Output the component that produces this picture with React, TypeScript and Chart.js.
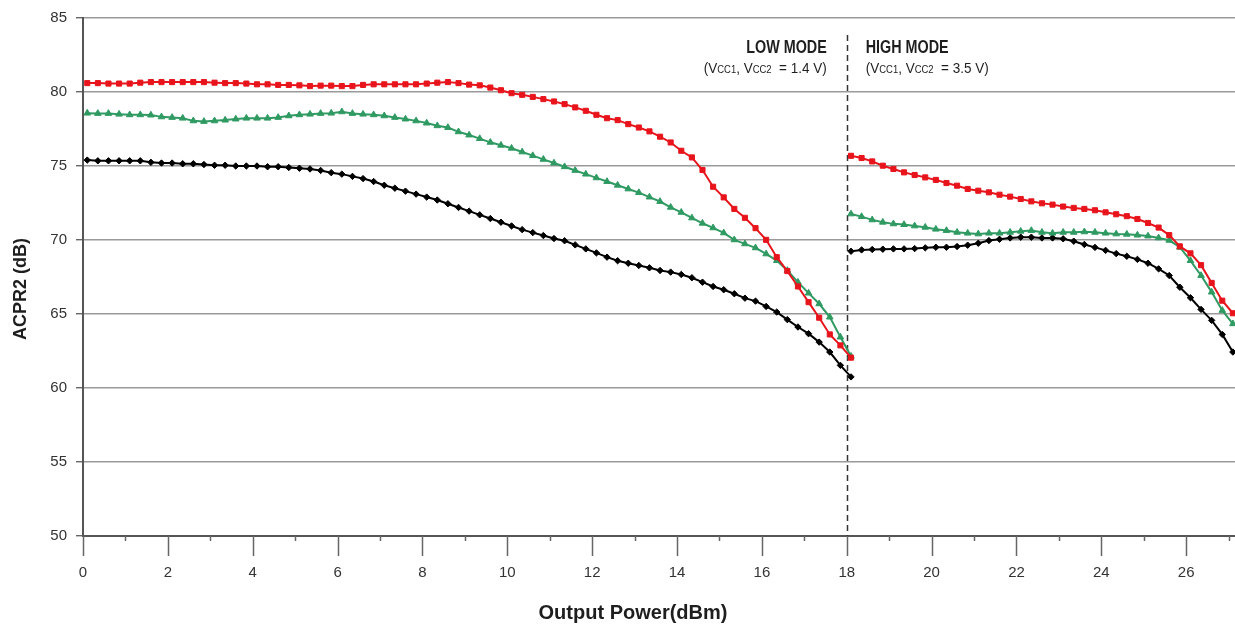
import React, { useEffect, useRef } from "react";
import { Chart, registerables } from "chart.js";

Chart.register(...registerables);

const FONT = "'Liberation Sans', Arial, Helvetica, sans-serif";

// X positions (Output Power, dBm)
const xLow = [0.1, 0.35, 0.6, 0.85, 1.1, 1.35, 1.6, 1.85, 2.1, 2.35, 2.6, 2.85, 3.1, 3.35, 3.6, 3.85, 4.1, 4.35, 4.6, 4.85, 5.1, 5.35, 5.6, 5.85, 6.1, 6.35, 6.6, 6.85, 7.1, 7.35, 7.6, 7.85, 8.1, 8.35, 8.6, 8.85, 9.1, 9.35, 9.6, 9.85, 10.1, 10.35, 10.6, 10.85, 11.1, 11.35, 11.6, 11.85, 12.1, 12.35, 12.6, 12.85, 13.1, 13.35, 13.6, 13.85, 14.1, 14.35, 14.6, 14.85, 15.1, 15.35, 15.6, 15.85, 16.1, 16.35, 16.6, 16.85, 17.1, 17.35, 17.6, 17.85, 18.1];
const xHigh = [18.1, 18.35, 18.6, 18.85, 19.1, 19.35, 19.6, 19.85, 20.1, 20.35, 20.6, 20.85, 21.1, 21.35, 21.6, 21.85, 22.1, 22.35, 22.6, 22.85, 23.1, 23.35, 23.6, 23.85, 24.1, 24.35, 24.6, 24.85, 25.1, 25.35, 25.6, 25.85, 26.1, 26.35, 26.6, 26.85, 27.1];

// Low mode (Vcc = 1.4 V)
const redLow = [80.6, 80.6, 80.57, 80.57, 80.57, 80.63, 80.67, 80.67, 80.67, 80.67, 80.67, 80.67, 80.63, 80.6, 80.6, 80.57, 80.52, 80.52, 80.48, 80.48, 80.45, 80.4, 80.43, 80.43, 80.4, 80.4, 80.48, 80.52, 80.52, 80.52, 80.52, 80.52, 80.57, 80.63, 80.67, 80.6, 80.5, 80.45, 80.3, 80.12, 79.92, 79.81, 79.67, 79.52, 79.36, 79.18, 78.96, 78.73, 78.46, 78.23, 78.1, 77.83, 77.6, 77.34, 76.98, 76.59, 76.03, 75.58, 74.73, 73.6, 72.88, 72.1, 71.5, 70.8, 70.01, 68.84, 67.9, 66.86, 65.8, 64.75, 63.62, 62.88, 62.05];
const greenLow = [78.57, 78.55, 78.55, 78.5, 78.46, 78.46, 78.44, 78.32, 78.28, 78.23, 78.05, 78.01, 78.05, 78.1, 78.17, 78.23, 78.23, 78.23, 78.28, 78.39, 78.46, 78.5, 78.55, 78.57, 78.66, 78.55, 78.5, 78.46, 78.39, 78.28, 78.17, 78.05, 77.9, 77.72, 77.6, 77.31, 77.09, 76.85, 76.6, 76.4, 76.2, 75.95, 75.7, 75.45, 75.2, 74.95, 74.7, 74.45, 74.2, 73.95, 73.7, 73.45, 73.2, 72.9, 72.6, 72.21, 71.87, 71.49, 71.13, 70.82, 70.48, 70.01, 69.74, 69.47, 69.06, 68.61, 67.94, 67.15, 66.41, 65.69, 64.79, 63.44, 62.14];
const blackLow = [75.4, 75.35, 75.35, 75.35, 75.35, 75.35, 75.25, 75.2, 75.2, 75.15, 75.15, 75.1, 75.05, 75.05, 75.0, 75.0, 75.0, 74.95, 74.95, 74.9, 74.85, 74.8, 74.7, 74.55, 74.45, 74.3, 74.15, 73.95, 73.7, 73.5, 73.3, 73.1, 72.9, 72.7, 72.45, 72.2, 71.95, 71.7, 71.45, 71.2, 70.95, 70.7, 70.5, 70.3, 70.1, 69.95, 69.67, 69.4, 69.13, 68.84, 68.6, 68.43, 68.28, 68.12, 67.94, 67.83, 67.67, 67.45, 67.15, 66.86, 66.64, 66.37, 66.07, 65.87, 65.51, 65.13, 64.62, 64.12, 63.67, 63.1, 62.43, 61.53, 60.75];

// High mode (Vcc = 3.5 V)
const redHigh = [75.69, 75.54, 75.31, 75.02, 74.8, 74.57, 74.39, 74.23, 74.06, 73.85, 73.67, 73.45, 73.33, 73.22, 73.06, 72.93, 72.77, 72.61, 72.48, 72.39, 72.26, 72.17, 72.1, 72.01, 71.87, 71.74, 71.61, 71.42, 71.15, 70.84, 70.33, 69.57, 69.1, 68.3, 67.1, 65.9, 65.05];
const greenHigh = [71.76, 71.58, 71.36, 71.2, 71.09, 71.04, 70.95, 70.86, 70.73, 70.64, 70.52, 70.46, 70.41, 70.46, 70.46, 70.52, 70.59, 70.64, 70.52, 70.46, 70.52, 70.52, 70.55, 70.52, 70.46, 70.41, 70.39, 70.33, 70.27, 70.14, 69.98, 69.51, 68.61, 67.6, 66.48, 65.24, 64.34];
const blackHigh = [69.24, 69.33, 69.36, 69.38, 69.4, 69.4, 69.42, 69.47, 69.51, 69.51, 69.56, 69.65, 69.78, 69.96, 70.05, 70.14, 70.19, 70.19, 70.14, 70.14, 70.08, 69.92, 69.7, 69.5, 69.3, 69.08, 68.9, 68.69, 68.43, 68.05, 67.6, 66.81, 66.1, 65.31, 64.57, 63.62, 62.43];

const yMin = 50;
const yMax = 85;
const yStep = 5;
const xMin = 0;
const xMax = 27.15;
const xStep = 2;
const modeBoundary = 18;

const RED = "#e8141c";
const GREEN = "#2f9a62";
const BLACK = "#000000";

type Part = [string, number, boolean];

function drawRich(ctx: CanvasRenderingContext2D, parts: Part[], x: number, y: number, align: "left" | "right", sx: number) {
  let w = 0;
  for (const [t, size, bold] of parts) {
    ctx.font = `${bold ? "bold " : ""}${size}px ${FONT}`;
    w += ctx.measureText(t).width;
  }
  ctx.save();
  ctx.translate(x, y);
  ctx.scale(sx, 1);
  ctx.textAlign = "left";
  ctx.textBaseline = "alphabetic";
  ctx.fillStyle = "#1e1e1e";
  let cx = align === "right" ? -w : 0;
  for (const [t, size, bold] of parts) {
    ctx.font = `${bold ? "bold " : ""}${size}px ${FONT}`;
    ctx.fillText(t, cx, 0);
    cx += ctx.measureText(t).width;
  }
  ctx.restore();
}

const decorPlugin = {
  id: "decor",
  beforeDatasetsDraw(chart: any) {
    const ctx: CanvasRenderingContext2D = chart.ctx;
    const xs = chart.scales.x;
    const area = chart.chartArea;
    ctx.save();
    // x-axis tick marks (major every 2, minor every 1)
    ctx.strokeStyle = "#666";
    ctx.lineWidth = 1.5;
    for (let v = xMin; v <= Math.floor(xMax); v++) {
      const px = Math.round(xs.getPixelForValue(v)) + 0.5;
      const len = v % 2 === 0 ? 20 : 5;
      ctx.beginPath();
      ctx.moveTo(px, area.bottom);
      ctx.lineTo(px, area.bottom + len);
      ctx.stroke();
    }
    // dashed mode boundary
    const bx = Math.round(xs.getPixelForValue(modeBoundary)) + 0.5;
    ctx.strokeStyle = "#333";
    ctx.lineWidth = 1.5;
    ctx.setLineDash([6, 4]);
    ctx.beginPath();
    ctx.moveTo(bx, 35);
    ctx.lineTo(bx, area.bottom);
    ctx.stroke();
    ctx.restore();
  },
  afterDraw(chart: any) {
    const ctx: CanvasRenderingContext2D = chart.ctx;
    const xs = chart.scales.x;
    const bx = xs.getPixelForValue(modeBoundary);
    ctx.save();
    drawRich(ctx, [["LOW MODE", 17.5, true]], bx - 20, 53, "right", 0.82);
    drawRich(ctx, [["(V", 15, false], ["CC1", 10.5, false], [", V", 15, false], ["CC2", 10.5, false], ["  = 1.4 V)", 15, false]], bx - 20, 73, "right", 0.9);
    drawRich(ctx, [["HIGH MODE", 17.5, true]], bx + 19, 53, "left", 0.82);
    drawRich(ctx, [["(V", 15, false], ["CC1", 10.5, false], [", V", 15, false], ["CC2", 10.5, false], ["  = 3.5 V)", 15, false]], bx + 19, 73, "left", 0.9);

    // axis titles
    ctx.fillStyle = "#1e1e1e";
    ctx.font = `bold 20px ${FONT}`;
    ctx.textAlign = "center";
    ctx.textBaseline = "alphabetic";
    ctx.fillText("Output Power(dBm)", 633, 619);

    ctx.translate(26, 289);
    ctx.rotate(-Math.PI / 2);
    ctx.font = `bold 18px ${FONT}`;
    ctx.fillText("ACPR2 (dB)", 0, 0);
    ctx.restore();
  },
};

function series(label: string, xs: number[], ys: number[], color: string, style: string, radius: number) {
  return {
    label,
    data: xs.map((x, i) => ({ x, y: ys[i] })),
    borderColor: color,
    backgroundColor: color,
    pointBackgroundColor: color,
    pointBorderColor: color,
    pointBorderWidth: 1,
    pointStyle: style,
    pointRadius: radius,
    borderWidth: 2,
    tension: 0,
    fill: false,
  };
}

export default function App() {
  const ref = useRef<HTMLCanvasElement>(null);
  useEffect(() => {
    const canvas = ref.current!;
    const chart = new Chart(canvas, {
      type: "line",
      data: {
        datasets: [
          series("Red low", xLow, redLow, RED, "rect", 3.6),
          series("Green low", xLow, greenLow, GREEN, "triangle", 3.8),
          series("Black low", xLow, blackLow, BLACK, "rectRot", 3.2),
          series("Red high", xHigh, redHigh, RED, "rect", 3.6),
          series("Green high", xHigh, greenHigh, GREEN, "triangle", 3.8),
          series("Black high", xHigh, blackHigh, BLACK, "rectRot", 3.2),
        ] as any,
      },
      options: {
        responsive: false,
        animation: false,
        layout: { autoPadding: false, padding: { top: 18, left: 0, right: 0, bottom: 0 } },
        plugins: { legend: { display: false }, tooltip: { enabled: false } },
        scales: {
          x: {
            type: "linear",
            min: xMin,
            max: xMax,
            grid: { display: false, drawTicks: false },
            border: { display: true, color: "#555", width: 2 },
            ticks: {
              stepSize: xStep,
              includeBounds: false,
              padding: 28,
              color: "#333",
              font: { family: FONT, size: 15 },
              maxRotation: 0,
            },
            afterFit: (s: any) => {
              s.height = 90;
            },
          },
          y: {
            min: yMin,
            max: yMax,
            grid: { color: "#9a9a9a", lineWidth: 1.4, drawTicks: true, tickLength: 7, tickColor: "#666" },
            border: { display: true, color: "#555", width: 2 },
            ticks: {
              stepSize: yStep,
              padding: 9,
              color: "#333",
              font: { family: FONT, size: 15 },
            },
            afterFit: (s: any) => {
              s.width = 83;
            },
          },
        },
      } as any,
      plugins: [decorPlugin],
    });
    return () => chart.destroy();
  }, []);
  return (
    <div style={{ position: "fixed", left: 0, top: 0, width: 1235, height: 626, background: "#fff" }}>
      <canvas ref={ref} width={1235} height={626} />
    </div>
  );
}
